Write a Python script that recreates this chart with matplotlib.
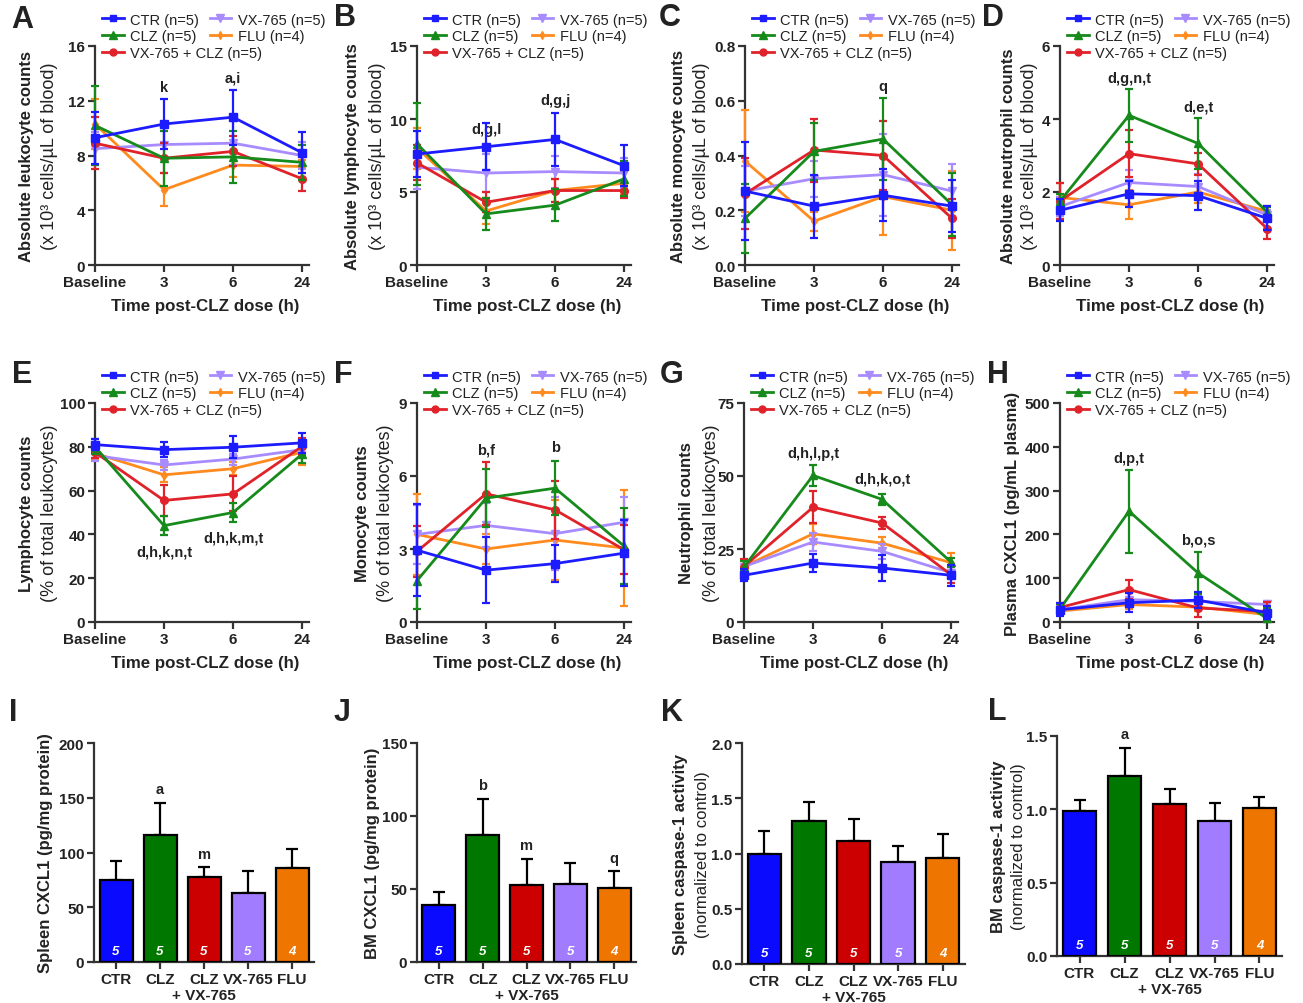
import numpy as np
import matplotlib
matplotlib.use("Agg")
import matplotlib.pyplot as plt
from matplotlib.lines import Line2D

plt.rcParams['font.family'] = ['Liberation Sans', 'DejaVu Sans']
plt.rcParams['text.color'] = '#222222'


# Data

TIMES = ['Baseline', '3', '6', '24']
GROUPS = ['CTR (n=5)', 'CLZ (n=5)', 'VX-765 + CLZ (n=5)', 'VX-765 (n=5)', 'FLU (n=4)']
LINE_COLORS = ['#1c1cff', '#178a1c', '#e0222a', '#a88cff', '#ff8a1e']
MARKERS = ['s', '^', 'o', 'v', 'd']
MARKER_SIZES = [5.5, 6, 5.5, 6, 4.5]

# order of rows: CTR, CLZ, VX-765 + CLZ, VX-765, FLU
LEUK = [[9.3, 10.3, 10.8, 8.2], [10.2, 7.8, 7.9, 7.5], [8.9, 7.8, 8.3, 6.3],
        [8.5, 8.8, 8.9, 8.0], [10.3, 5.5, 7.3, 7.2]]
LEUK_ERR = [[1.9, 1.8, 2.0, 1.5], [2.9, 2.0, 1.9, 1.3], [1.9, 1.1, 1.1, 0.9],
            [1.2, 1.0, 1.6, 1.0], [1.8, 1.2, 0.9, 0.5]]

LYMPH = [[7.6, 8.1, 8.6, 6.8], [8.3, 3.5, 4.1, 5.9], [7.0, 4.3, 5.1, 5.1],
         [6.7, 6.3, 6.4, 6.3], [8.0, 3.7, 5.1, 5.6]]
LYMPH_ERR = [[1.6, 1.6, 1.8, 1.4], [2.8, 1.1, 1.1, 1.2], [1.2, 0.7, 0.8, 0.5],
             [1.5, 1.3, 1.1, 1.0], [1.4, 0.9, 0.8, 0.8]]

MONO = [[0.27, 0.215, 0.255, 0.215], [0.17, 0.415, 0.46, 0.22], [0.26, 0.42, 0.40, 0.17],
        [0.27, 0.315, 0.33, 0.27], [0.38, 0.16, 0.25, 0.20]]
MONO_ERR = [[0.18, 0.115, 0.095, 0.095], [0.125, 0.105, 0.15, 0.115], [0.13, 0.115, 0.125, 0.07],
            [0.09, 0.065, 0.15, 0.1], [0.185, 0.035, 0.14, 0.145]]

NEUT = [[1.5, 1.95, 1.9, 1.28], [1.75, 4.1, 3.33, 1.45], [1.75, 3.05, 2.77, 1.0],
        [1.6, 2.26, 2.15, 1.37], [1.85, 1.65, 2.0, 1.47]]
NEUT_ERR = [[0.3, 0.35, 0.4, 0.33], [0.2, 0.72, 0.7, 0.15], [0.5, 0.65, 0.3, 0.28],
            [0.25, 0.35, 0.35, 0.15], [0.4, 0.4, 0.3, 0.15]]

LYMPH_PCT = [[81, 78.7, 79.8, 81.8], [80, 44, 50, 76.7], [77.5, 55.5, 58.5, 80.2],
             [76, 71.7, 74.4, 78.7], [77, 67.2, 70, 77.5]]
LYMPH_PCT_ERR = [[2.5, 3.5, 5, 4.5], [3.5, 4.5, 4.5, 4], [2.5, 7, 8, 4],
                 [2.5, 2.5, 2.5, 2], [2.5, 3.5, 3, 6]]

MONO_PCT = [[2.95, 2.13, 2.4, 2.83], [1.7, 5.09, 5.5, 3.12], [2.9, 5.27, 4.61, 2.97],
            [3.6, 3.97, 3.63, 4.1], [3.6, 3.0, 3.37, 3.04]]
MONO_PCT_ERR = [[1.9, 1.35, 0.75, 1.35], [1.15, 1.2, 1.1, 1.55], [1.05, 1.3, 1.2, 1.0],
                [1.2, 0.9, 1.5, 1.05], [1.65, 0.6, 1.65, 2.4]]

NEUT_PCT = [[16, 20.2, 18.5, 16], [18.8, 50.2, 42, 20.5], [19, 39.3, 33.9, 16.2],
            [19, 27.4, 24.2, 16.9], [19, 30.2, 27, 20.3]]
NEUT_PCT_ERR = [[2, 3, 4.5, 3.5], [2, 3.5, 2, 1.5], [2.5, 5.5, 2, 3],
                [2, 3, 2.5, 2], [2, 3.5, 2, 3.5]]

PLASMA = [[28, 44, 50, 21], [30, 253, 112, 8], [33, 74, 32, 24],
          [28, 51, 47, 40], [25, 40, 34, 17]]
PLASMA_ERR = [[15, 22, 18, 15], [10, 95, 47, 25], [10, 22, 20, 22],
              [10, 15, 12, 8], [8, 10, 10, 5]]

BAR_LABELS = ['CTR', 'CLZ', 'CLZ', 'VX-765', 'FLU']
BAR_SUBLABEL = '+ VX-765'
BAR_N = ['5', '5', '5', '5', '4']
BAR_COLORS = ['#0a0aff', '#007800', '#cc0000', '#a27cff', '#ee7500']

SPLEEN_CXCL1 = [74.6, 116.3, 77.6, 63.3, 85.8]
SPLEEN_CXCL1_ERR = [17.8, 29, 9, 19.5, 17]
BM_CXCL1 = [38.8, 86.8, 53, 53.5, 50.7]
BM_CXCL1_ERR = [9.2, 25, 17.3, 14.3, 11.6]
SPLEEN_CASP = [0.994, 1.29, 1.11, 0.925, 0.96]
SPLEEN_CASP_ERR = [0.21, 0.175, 0.205, 0.14, 0.215]
BM_CASP = [0.99, 1.229, 1.034, 0.92, 1.011]
BM_CASP_ERR = [0.075, 0.19, 0.105, 0.12, 0.07]


# Layout helpers (pixel coords of the 1303x1004 picture)

W, H = 1303, 1004
fig = plt.figure(figsize=(W / 100, H / 100), dpi=100)


def rect(l, t, r, b):
    return [l / W, 1 - b / H, (r - l) / W, (b - t) / H]


def fx(x):
    return x / W


def fy(y):
    return 1 - y / H


def style(ax, yticks, fmt):
    for s in ['top', 'right']:
        ax.spines[s].set_visible(False)
    for s in ['left', 'bottom']:
        ax.spines[s].set_linewidth(1.6)
        ax.spines[s].set_color('#333333')
    ax.tick_params(direction='out', length=5, width=1.6, color='#333333', pad=2)
    ax.set_yticks(yticks)
    ax.set_yticklabels([fmt.format(v) for v in yticks], fontsize=11, fontweight='bold', color='#222222')


def ylabels(ax_left, top, bottom, lab1, lab2, off1, off2, size2=13):
    yc = fy((top + bottom) / 2)
    fig.text(fx(ax_left - off1), yc, lab1, rotation=90, ha='center', va='center',
             fontsize=12, fontweight='bold')
    if lab2:
        fig.text(fx(ax_left - off2), yc, lab2, rotation=90, ha='center', va='center',
                 fontsize=size2)


def line_panel(letter, lpos, left, top, means, errs, ytop, yticks, fmt, lab1, lab2, off1, off2, notes):
    bottom = top + 219
    ax = fig.add_axes(rect(left, top, left + 214, bottom))
    x = np.arange(len(TIMES))
    for i in reversed(range(len(GROUPS))):
        m = np.array(means[i], dtype=float)
        e = np.array(errs[i], dtype=float)
        cont = ax.errorbar(x, m, yerr=[np.minimum(e, m), e], color=LINE_COLORS[i], marker=MARKERS[i],
                           ms=MARKER_SIZES[i], lw=2, elinewidth=1.6, capsize=3, capthick=1.6, zorder=10 - i)
        cont[0].set_clip_on(False)
        for c in cont[1]:
            c.set_clip_on(False)
        for c in cont[2]:
            c.set_clip_on(False)
    ax.set_xlim(0, 3.1)
    ax.set_ylim(0, ytop)
    style(ax, yticks, fmt)
    ax.set_xticks(x)
    ax.set_xticklabels(TIMES, fontsize=11, fontweight='bold', color='#222222')
    for xi, yv, txt in notes:
        ax.text(xi, yv, txt, ha='center', va='center', fontsize=10.5, fontweight='bold')

    handles = [Line2D([], [], color=LINE_COLORS[i], marker=MARKERS[i], ms=MARKER_SIZES[i] - 0.5, lw=2)
               for i in range(5)]
    leg_kw = dict(frameon=False, fontsize=10.5, handlelength=1.5, handletextpad=0.45,
                  borderpad=0, borderaxespad=0, labelspacing=0.2, columnspacing=0.7,
                  loc='center left', bbox_transform=fig.transFigure)
    leg1 = ax.legend([handles[0], handles[1], handles[3], handles[4]],
                     [GROUPS[0], GROUPS[1], GROUPS[3], GROUPS[4]], ncol=2,
                     bbox_to_anchor=(fx(left + 7), fy(top - 18)), **leg_kw)
    ax.add_artist(leg1)
    ax.legend([handles[2]], [GROUPS[2]], bbox_to_anchor=(fx(left + 7), fy(top + 7)), **leg_kw)

    ylabels(left, top, bottom, lab1, lab2, off1, off2)
    fig.text(fx(left + 110), fy(bottom + 41), 'Time post-CLZ dose (h)', ha='center', va='center',
             fontsize=12.2, fontweight='bold')
    fig.text(fx(lpos[0]), fy(lpos[1]), letter, ha='center', va='center', fontsize=22, fontweight='bold')


def bar_panel(letter, lpos, l, t, r, b, vals, errs, ytop, yticks, fmt, lab1, lab2, off1, off2, notes):
    ax = fig.add_axes(rect(l, t, r, b))
    x = np.arange(len(BAR_LABELS))
    ax.bar(x, vals, width=0.75, color=BAR_COLORS, edgecolor='black', linewidth=1.6, zorder=3)
    ax.errorbar(x, vals, yerr=[np.zeros(len(vals)), errs], fmt='none', ecolor='black',
                elinewidth=1.6, capsize=4.5, capthick=1.6, zorder=2)
    for xi, n in zip(x, BAR_N):
        ax.text(xi, ytop * 0.05, n, color='white', fontsize=9.5, fontweight='bold', fontstyle='italic',
                ha='center', va='center', zorder=4)
    for xi, yv, txt in notes:
        ax.text(xi, yv, txt, ha='center', va='center', fontsize=10.5, fontweight='bold')
    ax.set_xlim(-0.5, 4.5)
    ax.set_ylim(0, ytop)
    style(ax, yticks, fmt)
    ax.set_xticks(x)
    ax.set_xticklabels(BAR_LABELS, fontsize=11, fontweight='bold', color='#222222')
    fig.text(fx(l + 2.5 / 5 * (r - l)), fy(b + 33), BAR_SUBLABEL, ha='center', va='center',
             fontsize=11, fontweight='bold')
    ylabels(l, t, b, lab1, lab2, off1, off2, size2=12)
    fig.text(fx(lpos[0]), fy(lpos[1]), letter, ha='center', va='center', fontsize=22, fontweight='bold')


UNIT = '(x 10\u00b3 cells/\u00b5L of blood)'
PCT = '(% of total leukocytes)'

line_panel('A', (22, 20), 95, 47, LEUK, LEUK_ERR, 16, [0, 4, 8, 12, 16], '{:d}',
           'Absolute leukocyte counts', UNIT, 68, 45, [(1, 13.0, 'k'), (2, 13.7, 'a,i')])
line_panel('B', (345, 18), 417, 47, LYMPH, LYMPH_ERR, 15, [0, 5, 10, 15], '{:d}',
           'Absolute lymphocyte counts', UNIT, 64, 39, [(1, 9.3, 'd,g,l'), (2, 11.3, 'd,g,j')])
line_panel('C', (670, 18), 745, 47, MONO, MONO_ERR, 0.8, [0.0, 0.2, 0.4, 0.6, 0.8], '{:.1f}',
           'Absolute monocyte counts', UNIT, 67, 43, [(2, 0.655, 'q')])
line_panel('D', (993, 18), 1060, 47, NEUT, NEUT_ERR, 6, [0, 2, 4, 6], '{:d}',
           'Absolute neutrophil counts', UNIT, 52, 30, [(1, 5.13, 'd,g,n,t'), (2, 4.35, 'd,e,t')])

line_panel('E', (22, 375), 95, 404, LYMPH_PCT, LYMPH_PCT_ERR, 100, [0, 20, 40, 60, 80, 100], '{:d}',
           'Lymphocyte counts', PCT, 68, 45, [(1, 32.2, 'd,h,k,n,t'), (2, 38.8, 'd,h,k,m,t')])
line_panel('F', (343, 375), 417, 404, MONO_PCT, MONO_PCT_ERR, 9, [0, 3, 6, 9], '{:d}',
           'Monocyte counts', PCT, 54, 31, [(1, 7.1, 'b,f'), (2, 7.2, 'b')])
line_panel('G', (672, 375), 744, 404, NEUT_PCT, NEUT_PCT_ERR, 75, [0, 25, 50, 75], '{:d}',
           'Neutrophil counts', PCT, 58, 33, [(1, 57.9, 'd,h,l,p,t'), (2, 49.2, 'd,h,k,o,t')])
line_panel('H', (998, 375), 1060, 404, PLASMA, PLASMA_ERR, 500, [0, 100, 200, 300, 400, 500], '{:d}',
           'Plasma CXCL1 (pg/mL plasma)', None, 48, 0, [(1, 375, 'd,p,t'), (2, 188, 'b,o,s')])

bar_panel('I', (13, 713), 94, 744, 314, 963, SPLEEN_CXCL1, SPLEEN_CXCL1_ERR, 200, [0, 50, 100, 150, 200],
          '{:d}', 'Spleen CXCL1 (pg/mg protein)', None, 48, 0, [(1, 158, 'a'), (2, 99, 'm')])
bar_panel('J', (342, 713), 417, 744, 636, 963, BM_CXCL1, BM_CXCL1_ERR, 150, [0, 50, 100, 150],
          '{:d}', 'BM CXCL1 (pg/mg protein)', None, 44, 0, [(1, 121.5, 'b'), (2, 79.9, 'm'), (4, 71.2, 'q')])
bar_panel('K', (672, 713), 742, 744, 965, 965, SPLEEN_CASP, SPLEEN_CASP_ERR, 2.0, [0.0, 0.5, 1.0, 1.5, 2.0],
          '{:.1f}', 'Spleen caspase-1 activity', '(normalized to control)', 62, 40, [])
bar_panel('L', (997, 712), 1057, 737, 1282, 957, BM_CASP, BM_CASP_ERR, 1.5, [0.0, 0.5, 1.0, 1.5],
          '{:.1f}', 'BM caspase-1 activity', '(normalized to control)', 59, 38, [(1, 1.517, 'a')])

fig.savefig('out.png', dpi=100)
